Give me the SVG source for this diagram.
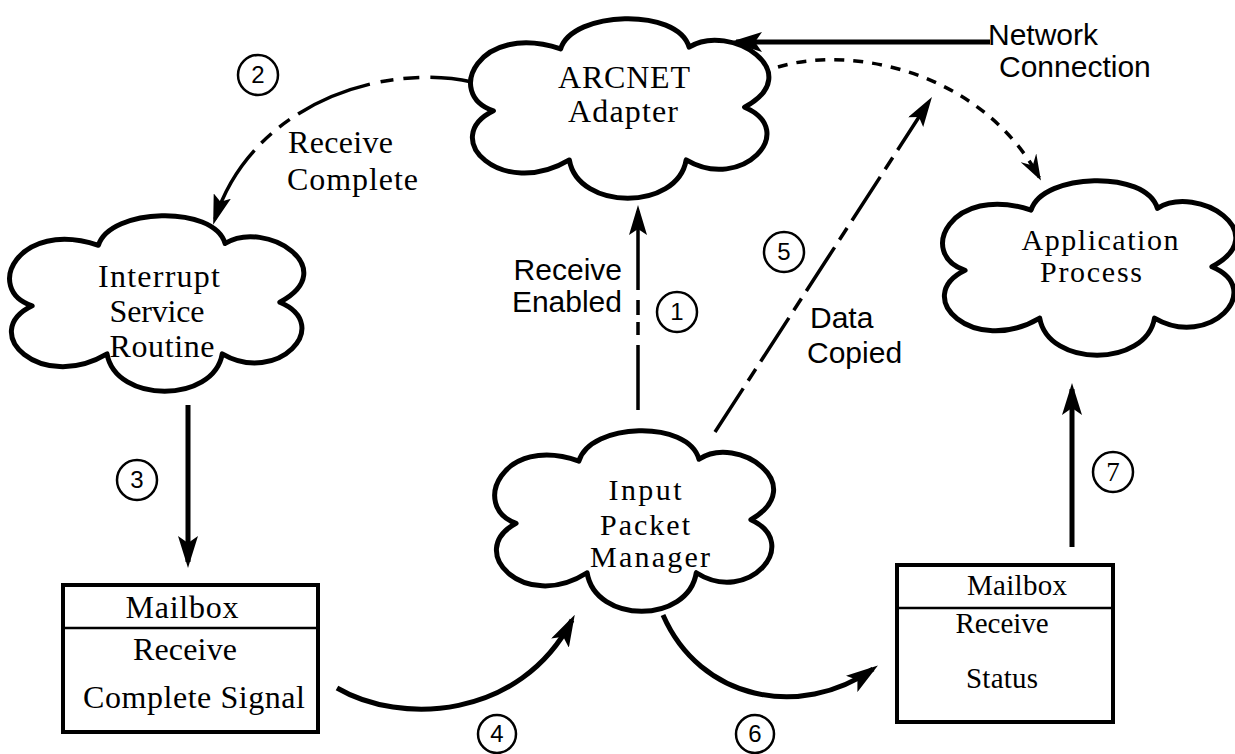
<svg xmlns="http://www.w3.org/2000/svg" width="1235" height="754" viewBox="0 0 1235 754">
<style>
.cloud{fill:#fff;stroke:#000;stroke-width:5;stroke-linejoin:round}
.serif{font-family:"Liberation Serif","Times New Roman",serif;font-size:32px;fill:#000;text-anchor:middle}
.tight{font-size:30px}
.sans{font-family:"Liberation Sans",Arial,sans-serif;font-size:30px;fill:#000}
.num{font-family:"Liberation Sans",Arial,sans-serif;font-size:24px;fill:#000;text-anchor:middle}
.ring{fill:#fff;stroke:#000;stroke-width:2.5}
.box{fill:#fff;stroke:#000;stroke-width:4}
.thick{fill:none;stroke:#000;stroke-width:5}
.dash{fill:none;stroke:#000;stroke-width:3.5}
</style>
<defs>
<path id="cloudShape" vector-effect="non-scaling-stroke" d="M7,51 C-10,42 2,2 30,17 C34,-4 70,-6 74,16 C88,2 115,30 93,49 C112,62 92,96 73,78 C70,106 36,106 33,78 C10,100 -12,66 7,51 Z"/>
<marker id="ah" markerUnits="userSpaceOnUse" viewBox="0 0 32 20" refX="26" refY="10" markerWidth="32" markerHeight="20" orient="auto">
<path d="M0,0 L32,10 L0,20 L7,10 Z" fill="#000"/>
</marker>
<marker id="ahs" markerUnits="userSpaceOnUse" viewBox="0 0 30 18" refX="24" refY="9" markerWidth="30" markerHeight="18" orient="auto">
<path d="M0,0 L30,9 L0,18 L6,9 Z" fill="#000"/>
</marker>
<marker id="ahd" markerUnits="userSpaceOnUse" viewBox="0 0 26 18" refX="22" refY="9" markerWidth="26" markerHeight="18" orient="auto">
<path d="M0,0 L26,9 L0,18 L9,9 Z" fill="#000"/>
</marker>
</defs>

<g id="connectors">
<path class="thick" d="M990,42 L736,42" stroke-width="4.5" marker-end="url(#ah)"/>
<path class="dash" d="M638,410 L638,211" stroke-dasharray="65 10 13 7 15 10 400" marker-end="url(#ahs)"/>
<path class="dash" d="M472,82 C380,62 251,106 215,219" stroke-dasharray="42 11 16 10 13 11 78 10 13 10 14 10 300" marker-end="url(#ahs)"/>
<path class="dash" d="M778,67 C850,45 980,70 1039,177" stroke-width="3" stroke-dasharray="10 9" marker-end="url(#ahd)"/>
<path class="thick" d="M188,405 L188,562" marker-end="url(#ah)"/>
<path class="thick" d="M337,688 C400,725 520,720 572,620" marker-end="url(#ah)"/>
<path class="dash" d="M715,432 L928.7,102" stroke-dasharray="52 9 14 9" marker-end="url(#ahs)"/>
<path class="thick" d="M663,615 C700,700 800,720 873,669" marker-end="url(#ah)"/>
<path class="thick" d="M1072,547 L1072,389" marker-end="url(#ah)"/>
</g>

<g id="arcnet">
<use href="#cloudShape" class="cloud" transform="translate(473,18) scale(2.92,1.82)"/>
<text class="serif" x="624" y="88" textLength="132">ARCNET</text>
<text class="serif" x="623" y="122" textLength="110">Adapter</text>
</g>

<g id="isr">
<use href="#cloudShape" class="cloud" transform="translate(12,215) scale(2.88,1.78)"/>
<text class="serif" x="159" y="287" textLength="122">Interrupt</text>
<text class="serif" x="157" y="322" textLength="95">Service</text>
<text class="serif" x="162" y="357" textLength="105">Routine</text>
</g>

<g id="ipm">
<use href="#cloudShape" class="cloud" transform="translate(497,430) scale(2.73,1.83)"/>
<text class="serif tight" x="645" y="500" textLength="73">Input</text>
<text class="serif tight" x="645" y="535" textLength="90">Packet</text>
<text class="serif tight" x="650" y="567" textLength="120">Manager</text>
</g>

<g id="app">
<use href="#cloudShape" class="cloud" transform="translate(945,180) scale(2.87,1.77)"/>
<text class="serif tight" x="1100" y="250" textLength="157">Application</text>
<text class="serif tight" x="1091" y="282" textLength="102">Process</text>
</g>

<g id="mailbox-left">
<rect class="box" x="63" y="585" width="255" height="147"/>
<line x1="63" y1="628" x2="318" y2="628" stroke="#000" stroke-width="2.5"/>
<text class="serif" x="182" y="618" textLength="113">Mailbox</text>
<text class="serif" x="185" y="660" textLength="104">Receive</text>
<text class="serif" x="194" y="708" textLength="222">Complete Signal</text>
</g>

<g id="mailbox-right">
<rect class="box" x="897" y="565" width="216" height="157"/>
<line x1="897" y1="608" x2="1113" y2="608" stroke="#000" stroke-width="2.5"/>
<text class="serif" x="1017" y="595" style="font-size:29px" textLength="100">Mailbox</text>
<text class="serif" x="1002" y="633" style="font-size:29px" textLength="93">Receive</text>
<text class="serif" x="1002" y="688" style="font-size:29px" textLength="72">Status</text>
</g>

<g id="labels">
<text class="sans" x="988" y="45">Network</text>
<text class="sans" x="999" y="77">Connection</text>
<text class="serif" x="288" y="153" style="text-anchor:start" textLength="105">Receive</text>
<text class="serif" x="287" y="190" style="text-anchor:start" textLength="131">Complete</text>
<text class="sans" x="622" y="280" text-anchor="end">Receive</text>
<text class="sans" x="622" y="312" text-anchor="end">Enabled</text>
<text class="sans" x="810" y="328">Data</text>
<text class="sans" x="807" y="363">Copied</text>
</g>

<g id="step-numbers">
<circle class="ring" cx="677" cy="312" r="20"/><text class="num" x="677" y="320">1</text>
<circle class="ring" cx="258" cy="75" r="20"/><text class="num" x="258" y="83">2</text>
<circle class="ring" cx="137" cy="480" r="20"/><text class="num" x="137" y="488">3</text>
<circle class="ring" cx="497" cy="734" r="19"/><text class="num" x="497" y="742">4</text>
<circle class="ring" cx="784" cy="252" r="20"/><text class="num" x="784" y="260">5</text>
<circle class="ring" cx="755" cy="734" r="19"/><text class="num" x="755" y="742">6</text>
<circle class="ring" cx="1113" cy="472" r="20"/><text class="num" x="1113" y="481" style="font-family:'Liberation Serif','Times New Roman',serif;font-size:27px">7</text>
</g>
</svg>
